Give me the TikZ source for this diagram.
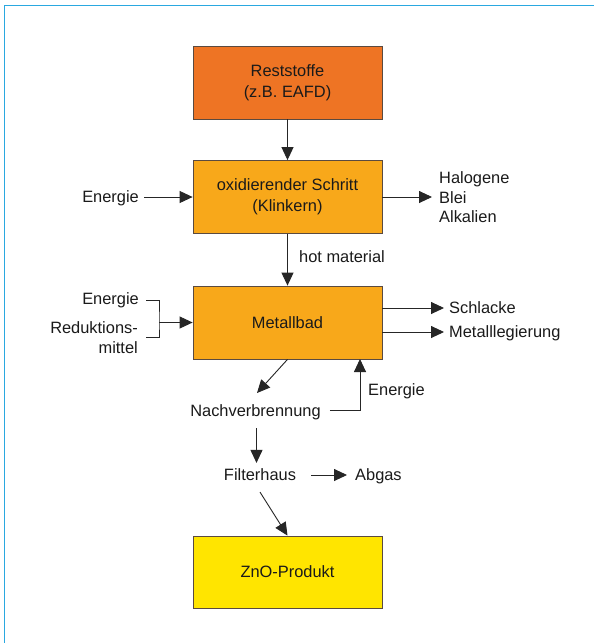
\documentclass[tikz,border=0pt]{standalone}
\usepackage{fontspec}
\setmainfont{Liberation Sans}
\usetikzlibrary{arrows.meta,calc}
\definecolor{frameblue}{HTML}{2AA8E0}
\definecolor{restc}{HTML}{EE7424}
\definecolor{oxc}{HTML}{F8A81A}
\definecolor{znc}{HTML}{FFE500}
\definecolor{edgec}{HTML}{5A4A40}
\definecolor{linec}{HTML}{262626}
\definecolor{txtc}{HTML}{1A1A1A}
\begin{document}
\begin{tikzpicture}[x=1pt,y=-1pt,
  font=\fontsize{16.4}{19.5}\selectfont,
  box/.style={draw=edgec, line width=0.8pt, minimum width=189pt, minimum height=73pt,
    inner sep=0pt, align=center, text=txtc},
  lbl/.style={inner sep=0pt, text=txtc, text height=11.8pt, text depth=0pt},
  lblm/.style={inner sep=0pt, text=txtc},
  arr/.style={draw=linec, line width=0.9pt, -{Triangle[length=13pt,width=12pt]}},
  ln/.style={draw=linec, line width=0.9pt}]
\useasboundingbox (0,0) rectangle (594,643);
\fill[white] (0,0) rectangle (594,643);
\draw[frameblue, line width=1.6pt] (4.5,643) -- (4.5,5.5) -- (594,5.5);

% boxes
\node[box, fill=restc] (rest) at (287.5,82.5) {Reststoffe\\[1.5pt](z.B. EAFD)};
\node[box, fill=oxc] (oxid) at (287.5,197) {oxidierender Schritt\\[1.5pt](Klinkern)};
\node[box, fill=oxc] (metall) at (287.5,322.5) {Metallbad};
\node[box, fill=znc, minimum height=72pt] (zno) at (287.5,572) {ZnO-Produkt};

% labels
\node[lbl, anchor=east] (en1) at (139,197) {Energie};
\node[lblm, anchor=west, align=left] (hal) at (439,197.5) {Halogene\\Blei\\Alkalien};
\node[lbl, anchor=west] (hot) at (299,257) {hot material};
\node[lbl, anchor=east] (en2) at (139,299) {Energie};
\node[lblm, anchor=east, align=right] (red) at (138,337.5) {Reduktions-\\mittel};
\node[lbl, anchor=west] (schl) at (449,308) {Schlacke};
\node[lbl, anchor=west] (leg) at (449,332) {Metalllegierung};
\node[lbl] (nach) at (255.5,411) {Nachverbrennung};
\node[lbl, anchor=west] (en3) at (368,390) {Energie};
\node[lbl] (filter) at (260,475) {Filterhaus};
\node[lbl, anchor=west] (abgas) at (355,475) {Abgas};

% coordinates
\coordinate (bm) at (159,322.5);
\coordinate (na) at (257,393);
\coordinate (mb) at (360,359);

% connectors
\draw[arr] (rest.south) -- (oxid.north);
\draw[arr, shorten <=5pt] (en1.east) -- (oxid.west);
\draw[arr, shorten >=7pt] (oxid.east) -- (oxid.east -| hal.west);
\draw[arr] (oxid.south) -- (metall.north);
\draw[ln] ($(en2.east)+(7,1)$) -| (bm) |- ($(red.east)+(8,-0.5)$);
\draw[arr] (bm) -- (metall.west);
\draw[arr, shorten >=5pt] (metall.east |- schl.west) -- (schl.west);
\draw[arr, shorten >=5pt] (metall.east |- leg.west) -- (leg.west);
\draw[arr] (metall.south) -- (na);
\draw[arr] ($(nach.east)+(9,-1)$) -| (mb);
\draw[arr] ($(nach.south)+(1,11)$) -- ($(filter.north)+(-3.5,-6)$);
\draw[arr] ($(filter.east)+(15,0)$) -- ($(abgas.west)+(-8,0)$);
\draw[arr] ($(filter.south)+(0,11)$) -- (zno.north);
\end{tikzpicture}
\end{document}
